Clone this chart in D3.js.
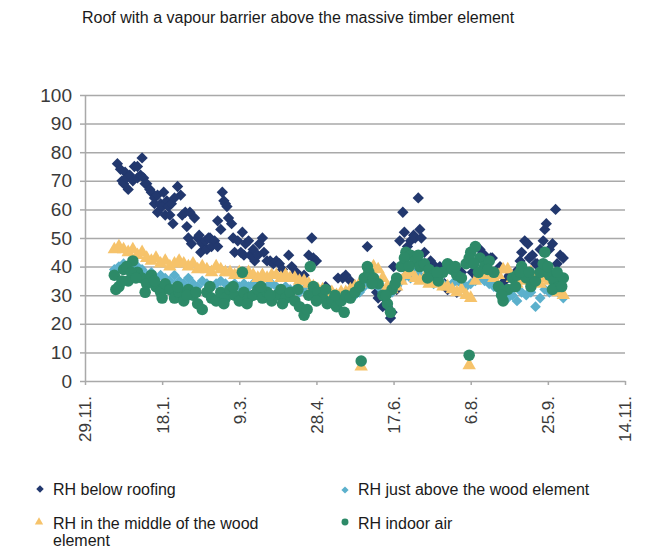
<!DOCTYPE html>
<html><head><meta charset="utf-8">
<script src="https://cdn.jsdelivr.net/npm/d3@7"></script>
<style>body{margin:0;background:#fff;} svg{display:block;font-family:"Liberation Sans",Arial,sans-serif;}</style>
</head><body><svg id="c" width="669" height="549"></svg>
<script>
// ---- data (days counted from 29.11.) ----
const titleText = "Roof with a vapour barrier above the massive timber element";
const xTickDays = [0, 50, 100, 150, 200, 250, 300, 350];
const xTickLabels = ["29.11.", "18.1.", "9.3.", "28.4.", "17.6.", "6.8.", "25.9.", "14.11."];
const yTicks = [0, 10, 20, 30, 40, 50, 60, 70, 80, 90, 100];
const seriesNames = ["RH below roofing", "RH just above the wood element", "RH in the middle of the wood element", "RH indoor air"];

const roofDays = [21,23,24,25,26,27,28,29,31,32,34,34,36,37,38,39,40,42,43,45,45,47,47,49,50,51,52,53,54,55,56,57,58,60,62,63,65,66,67,68,69,71,73,74,75,76,78,79,80,81,82,84,86,86,88,89,90,91,92,93,95,96,97,99,101,102,103,104,106,107,109,110,112,113,115,116,118,120,122,124,126,128,132,134,137,139,142,145,147,148,150,156,164,167,169,172,175,178,182,183,186,189,190,191,193,194,196,198,199,200,202,204,206,207,209,211,213,214,216,217,218,220,224,227,230,233,235,238,241,244,248,251,254,256,259,263,264,267,269,272,275,279,281,282,283,285,287,288,290,292,293,295,297,298,299,301,303,305,306,308,310];
const roofRH   = [76,74,70,69,73,71,67,72,70,75,71,75,72,78,71,69,69,67,66,62,64,65,59,62,61,66,58,63,61,58,62,55,64,68,65,58,59,54,50,59,48,57,50,51,45,48,49,46,50,50,47,49,47,56,53,66,63,62,61,57,55,50,45,49,45,52,44,48,49,44,46,42,44,48,50,45,42,42,41,42,41,39,44,40,38,36,37,44,50,43,42,33,36,36,37,35,33,32,35,47,36,31,29,33,26,29,26,22,24,40,32,49,59,52,47,49,51,50,64,53,50,45,42,40,40,34,32,40,31,38,42,38,36,46,44,43,43,38,40,35,37,38,39,42,45,49,48,43,44,41,41,46,49,53,55,46,48,60,41,44,43];

const bandDays = [19,22,25,28,31,34,37,40,43,46,49,52,55,58,61,64,67,70,73,76,79,82,85,88,91,94,97,100,103,106,109,112,115,118,121,124,127,130,133,136,139,142,145,148,151,154,157,160,163,166,169,172,175,178,181,184,187,190,193,196,199,202,205,208,211,214,217,220,223,226,229,232,235,238,241,244,247,250,253,256,259,262,265,268,271,274,277,280,283,286,289,292,295,298,301,304,307,310];
const aboveRH  = [39,40,41,39,38,40,39,37,38,36,37,36,35,37,35,34,36,34,33,35,34,33,34,35,34,33,34,33,34,33,34,35,33,33,34,33,32,33,32,32,31,32,31,31,30,29,30,29,29,30,30,29,30,31,33,34,35,33,31,30,31,33,35,37,36,38,37,36,35,34,35,34,33,34,35,34,33,34,35,36,35,34,33,32,31,29,30,28,31,30,31,26,29,32,31,33,31,29];
const middleDays = bandDays.concat([179, 249]);
const middleRH = [46,47,46,45,46,44,45,43,42,43,41,42,40,41,42,41,40,41,39,40,39,38,40,39,38,38,37,38,37,38,37,36,37,36,37,37,36,37,36,36,35,35,34,33,32,32,31,31,30,31,31,32,33,34,36,38,40,39,36,33,32,33,35,37,38,36,35,36,34,35,34,33,33,32,31,32,30,29,35,38,37,38,36,37,39,39,36,34,35,37,38,35,34,36,35,33,31,30, 5,5.5];
const indoorDays = bandDays.concat([20,24,27,30,33,39,45,50,60,66,72,81,90,96,102,105,114,120,128,138,144,146,150,156,162,168,183,186,195,198,201,207,210,216,222,228,240,249,252,255,261,270,279,282,288,297,300,303,306,309,179,249]);
const indoorRH = [37,33,39,35,42,38,36,34,37,33,31,34,32,29,31,28,32,30,27,25,31,29,28,31,29,32,30,28,31,29,30,32,29,31,28,30,32,29,31,28,26,23,30,33,31,29,27,28,26,28,30,29,31,33,36,38,36,34,30,27,32,36,40,45,44,42,40,41,39,37,35,38,41,39,37,36,41,45,47,43,40,42,38,33,28,32,36,37,40,36,33,35,38,45,37,35,33,36,
  32,35,40,38,36,31,35,29,33,30,31,33,27,33,38,27,33,30,27,32,25,40,28,32,30,24,40,34,30,24,34,43,40,44,36,38,40,43,41,38,39,30,33,38,38,41,40,32,38,33,7,9];

// ---- drawing ----
const svg = d3.select("#c");
const W = 669, H = 549;
svg.append("rect").attr("width", W).attr("height", H).attr("fill", "#fff");

const x = d3.scaleLinear().domain([0, 350]).range([85, 625]);
const y = d3.scaleLinear().domain([0, 100]).range([381, 95]);
const gridCol = "#a9a9a9";
const colors = ["#22386e", "#5bb0cc", "#f6c36b", "#2d8a68"];

svg.append("text").attr("x", 82).attr("y", 23).attr("font-size", 16).attr("fill", "#1a1a1a").text(titleText);

// gridlines
const grid = svg.append("g").attr("transform", "translate(85,0)")
  .call(d3.axisLeft(y).tickValues(yTicks.slice(1)).tickSize(-540).tickFormat(""));
grid.select(".domain").remove();
grid.selectAll("line").attr("stroke", gridCol).attr("stroke-width", 1.5);

// y axis
const gy = svg.append("g").attr("transform", "translate(85,0)")
  .call(d3.axisLeft(y).tickValues(yTicks).tickSize(5).tickSizeOuter(0).tickPadding(8));
gy.select(".domain").attr("stroke", gridCol).attr("stroke-width", 1.5);
gy.selectAll("line").attr("stroke", gridCol).attr("stroke-width", 1.5);
gy.selectAll("text").attr("font-size", 19).attr("fill", "#3a3a3a").attr("font-family", "Liberation Sans, Arial, sans-serif");

// x axis
const gx = svg.append("g").attr("transform", "translate(0,381)")
  .call(d3.axisBottom(x).tickValues(xTickDays).tickFormat((d, i) => xTickLabels[i]).tickSize(4).tickSizeOuter(0));
gx.select(".domain").attr("stroke", gridCol).attr("stroke-width", 1.5);
gx.selectAll("line").attr("stroke", gridCol).attr("stroke-width", 1.5);
gx.selectAll("text").attr("font-size", 17).attr("fill", "#3a3a3a").attr("font-family", "Liberation Sans, Arial, sans-serif")
  .attr("transform", "rotate(-90)").attr("text-anchor", "end").attr("x", -15).attr("y", 0).attr("dy", "0.35em");

const plot = svg.append("g");
function drawSeries(days, vals, sym, size, col, rot) {
  const data = days.map((d, i) => [d, vals[i]]);
  plot.append("g").selectAll("path").data(data).join("path")
    .attr("d", d3.symbol(sym, size))
    .attr("transform", d => `translate(${x(d[0])},${y(d[1])}) rotate(${rot})`)
    .attr("fill", col);
}
drawSeries(roofDays, roofRH, d3.symbolSquare, 64, colors[0], 45);
drawSeries(bandDays, aboveRH, d3.symbolSquare, 58, colors[1], 45);
drawSeries(middleDays, middleRH, d3.symbolTriangle, 78, colors[2], 0);
drawSeries(indoorDays, indoorRH, d3.symbolCircle, 104, colors[3], 0);

// legend
const leg = [
  {sym: d3.symbolSquare, size: 28, rot: 45, mx: 40, my: 489, tx: 53, ty: 495, lines: ["RH below roofing"]},
  {sym: d3.symbolSquare, size: 26, rot: 45, mx: 345, my: 490, tx: 358, ty: 495, lines: ["RH just above the wood element"]},
  {sym: d3.symbolTriangle, size: 30, rot: 0, mx: 39, my: 522, tx: 53, ty: 529, lines: ["RH in the middle of the wood", "element"]},
  {sym: d3.symbolCircle, size: 38, rot: 0, mx: 345, my: 522, tx: 358, ty: 529, lines: ["RH indoor air"]}
];
leg.forEach((l, i) => {
  svg.append("path").attr("d", d3.symbol(l.sym, l.size)).attr("fill", colors[i])
    .attr("transform", `translate(${l.mx},${l.my}) rotate(${l.rot})`);
  const t = svg.append("text").attr("x", l.tx).attr("y", l.ty).attr("font-size", 16).attr("fill", "#1a1a1a");
  l.lines.forEach((s, j) => t.append("tspan").attr("x", l.tx).attr("dy", j ? 17 : 0).text(s));
});
</script></body></html>
